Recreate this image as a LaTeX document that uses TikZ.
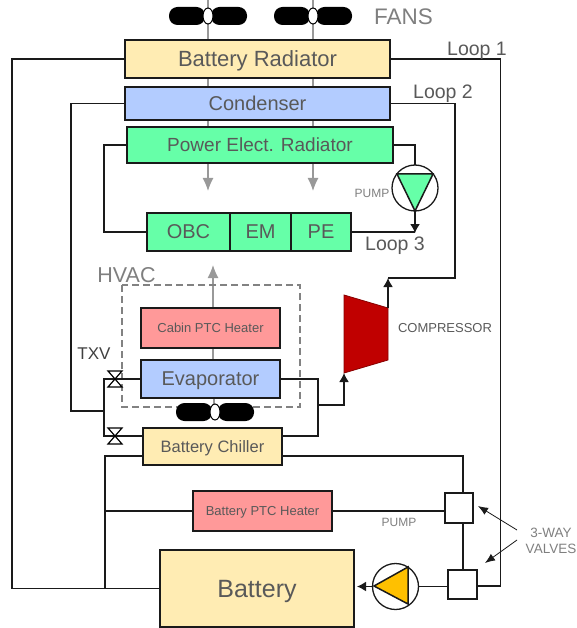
\documentclass[tikz,border=0pt]{standalone}
\usepackage{fontspec}
\setmainfont{Liberation Sans}
\usetikzlibrary{arrows.meta,calc,shapes.geometric}
\definecolor{txt}{HTML}{595959}
\definecolor{lab}{HTML}{7F7F7F}
\definecolor{ylw}{HTML}{FFECB3}
\definecolor{blu}{HTML}{B3CCFF}
\definecolor{grn}{HTML}{66FFA8}
\definecolor{red1}{HTML}{FF9999}
\definecolor{line1}{HTML}{1A1A1A}
\definecolor{gline}{HTML}{999999}
\definecolor{dark}{HTML}{C00000}
\definecolor{amber}{HTML}{FFC000}
\tikzset{
 x=1pt,y=-1pt,
 box/.style={draw=line1,line width=1.5pt,inner sep=0pt,outer sep=0pt,text=txt,anchor=north west,align=center,text depth=0pt},
 pipe/.style={draw=line1,line width=1.5pt},
 flow/.style={pipe,-{Latex[length=9pt,width=10pt]}},
 air/.style={draw=gline,line width=1.2pt},
 airflow/.style={air,-{Latex[length=13pt,width=11pt]}},
 lbl/.style={text=txt,inner sep=0pt},
 graylbl/.style={text=lab,inner sep=0pt,align=center},
 valvebox/.style={draw=line1,line width=1.5pt,fill=white,inner sep=0pt,outer sep=0pt,anchor=north west},
 pumpc/.style={circle,draw=line1,line width=1.3pt,fill=white,inner sep=0pt,outer sep=0pt,minimum size=46pt},
 thin arrow/.style={draw=line1,line width=.8pt,-{Latex[length=10pt,width=8pt]}},
 blade/.style={fill=black,rounded corners=8.5pt},
 hub/.style={ellipse,draw=black,line width=1pt,fill=white,inner sep=0pt,minimum width=10pt,minimum height=16pt},
 bow/.style={draw=black,line width=1.2pt,fill=white},
}
\newcommand{\myfan}[3]{%
 \fill[blade] (#1-39,#2-9) rectangle (#1-3,#2+9);
 \fill[blade] (#1+3,#2-9) rectangle (#1+39,#2+9);
 \node[hub] (#3) at (#1,#2) {};}
\newcommand{\mybow}[2]{%
 \draw[bow] (#1-7,#2-8) -- (#1+7,#2-8) -- (#1-7,#2+8) -- (#1+7,#2+8) -- cycle;}
\begin{document}
\begin{tikzpicture}
\useasboundingbox (0,0) rectangle (576,628);
% air lines
\coordinate (a1t) at (208,0); \coordinate (a2t) at (313,0);
\draw[air] (a1t) -- (208,40) (208,78) -- (208,87) (208,120) -- (208,127);
\draw[air] (a2t) -- (313,40) (313,78) -- (313,87) (313,120) -- (313,127);
\draw[airflow] (208,163) -- (208,191);
\draw[airflow] (313,163) -- (313,191);
\draw[airflow] (213,308) -- (213,265);
\draw[air] (213,348) -- (213,360) (214,398) -- (214,405);
% fans
\myfan{208}{16}{fanA}
\myfan{313}{16}{fanB}
% dashed HVAC
\draw[draw=gline!85!black,line width=1.3pt,dash pattern=on 7pt off 4pt] (122,285) rectangle (300,407);
% boxes
\node[box,fill=ylw,minimum width=265pt,minimum height=38pt,font=\fontsize{22}{26}\selectfont] (brad) at (125,40) {Battery Radiator};
\node[box,fill=blu,minimum width=265pt,minimum height=33pt,font=\fontsize{20}{24}\selectfont] (cond) at (125,87) {Condenser};
\node[box,fill=grn,minimum width=266pt,minimum height=36pt,font=\fontsize{19}{23}\selectfont] (perad) at (127,127) {Power Elect. Radiator};
\node[box,fill=grn,minimum width=83pt,minimum height=38pt,font=\fontsize{20}{24}\selectfont] (obc) at (147,213) {OBC};
\node[box,fill=grn,minimum width=61pt,minimum height=38pt,font=\fontsize{20}{24}\selectfont] (em) at (230,213) {EM};
\node[box,fill=grn,minimum width=60pt,minimum height=38pt,font=\fontsize{20}{24}\selectfont] (pe) at (291,213) {PE};
\node[box,fill=red1,minimum width=139pt,minimum height=40pt,font=\fontsize{13}{16}\selectfont] (cabin) at (141,308) {Cabin PTC Heater};
\node[box,fill=blu,minimum width=139pt,minimum height=38pt,font=\fontsize{20}{24}\selectfont] (evap) at (141,360) {Evaporator};
\node[box,fill=ylw,minimum width=139pt,minimum height=37pt,font=\fontsize{16.5}{20}\selectfont] (chill) at (143,428) {Battery Chiller};
\node[box,fill=red1,minimum width=139pt,minimum height=40pt,font=\fontsize{13}{16}\selectfont] (bptc) at (193,491) {Battery PTC Heater};
\node[box,fill=ylw,minimum width=194pt,minimum height=77pt,font=\fontsize{25}{30}\selectfont] (batt) at (160,550) {Battery};
\node[valvebox,minimum width=28pt,minimum height=30pt] (v1) at (445,493) {};
\node[valvebox,minimum width=29pt,minimum height=29pt] (v2) at (448,570) {};
\node[pumpc] (p1) at (415,188) {};
\node[pumpc] (p2) at (395.5,586.5) {};
\fill[grn,draw=line1,line width=1.5pt] (397,174) -- (433,174) -- (415,211) -- cycle;
\fill[amber,draw=line1,line width=1.5pt] (408,567) -- (408,604) -- (374,586) -- cycle;
% compressor
\path[fill=dark,draw=dark!70!black,line width=.8pt] (344,295) -- (388,308) -- (388,360) -- (344,373) -- cycle;
\coordinate (compin) at (344,373);
\coordinate (compout) at (388,308);
\myfan{215}{412}{fanC}
% Loop 1
\draw[pipe] (brad.east) -| (500.5,586) -- (v2.east |- 0,586);
\draw[pipe] (brad.west) -- (12,59) |- (batt.west);
% Loop 2
\draw[pipe] (cond.east) -- (455,103.5) |- (388,278);
\draw[flow] (compout) -- (388,278);
\draw[pipe] (cond.west) -- (71,103.5) |- (104,411);
\draw[pipe] (evap.west) -- (104,379) |- (chill.west |- 0,436);
\draw[pipe] (evap.east) -- (318,379) |- (chill.east |- 0,436);
\draw[flow] (318,405) -- (344,405) -- (compin);
\mybow{115}{379}
\mybow{115}{436}
% Chiller / battery loop
\draw[pipe] (chill.west |- 0,456) -- (105,456) -- (105,588);
\draw[pipe] (chill.east |- 0,456) -- (463,456) -- (v1.north -| 463,0);
\draw[pipe] (v1.south -| 463,0) -- (v2.north -| 463,0);
\draw[pipe] (bptc.west) -- (105,511);
\draw[pipe] (bptc.east) -- (v1.west |- bptc.east);
\draw[pipe] (v2.west |- p2.east) -- (p2.east);
\draw[flow] (p2.west) -- ($(batt.east |- p2.west)+(3,0)$);
% Loop 3
\draw[pipe] (perad.east) -| (p1.north);
\draw[flow] (p1.south) -- (415,233);
\draw[pipe] (pe.east) -- (415,232);
\draw[pipe] (perad.west) -- (104,145) |- (obc.west);
% valve labels
\node[graylbl,font=\fontsize{13.5}{15.5}\selectfont] (vl) at (551,541) {3-WAY\\VALVES};
\coordinate (vla) at (517,530); \coordinate (vlb) at (517,540);
\draw[thin arrow] (vla) -- (478,506);
\draw[thin arrow] (vlb) -- (485,563);
% labels
\node[graylbl,font=\fontsize{22.5}{27}\selectfont] (fans) at (403.5,17) {FANS};
\node[lbl,font=\fontsize{19.5}{24}\selectfont] (l1) at (477,50.5) {Loop 1};
\node[lbl,font=\fontsize{19.5}{24}\selectfont] (l2) at (443,94) {Loop 2};
\node[lbl,font=\fontsize{19.5}{24}\selectfont] (l3) at (395,245.5) {Loop 3};
\node[graylbl,font=\fontsize{21.5}{26}\selectfont] (hv) at (126.5,275) {HVAC};
\node[lbl,font=\fontsize{17}{20}\selectfont,text=black!75] (txv) at (94,354) {TXV};
\node[graylbl,font=\fontsize{12}{14}\selectfont] (pl1) at (372,193) {PUMP};
\node[graylbl,font=\fontsize{12}{14}\selectfont] (pl2) at (399,522) {PUMP};
\node[lbl,font=\fontsize{13}{15}\selectfont] (cl) at (445,328) {COMPRESSOR};
\end{tikzpicture}
\end{document}
